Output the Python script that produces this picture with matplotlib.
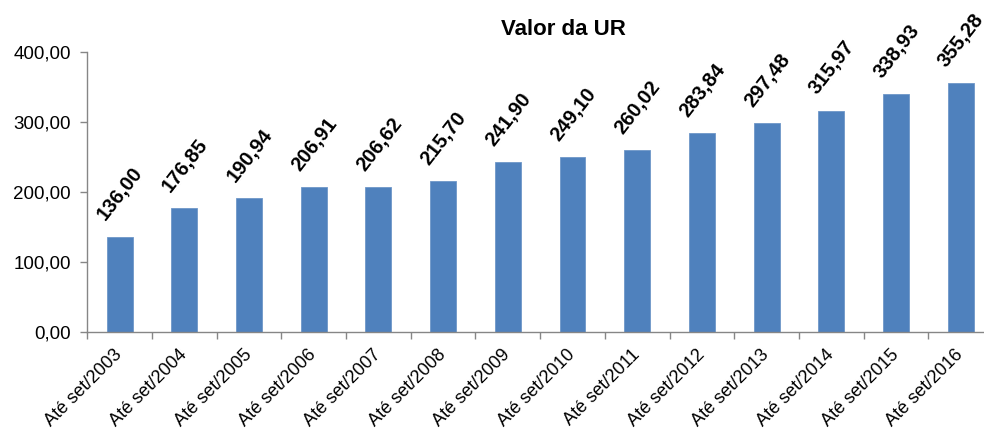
import matplotlib
matplotlib.use("Agg")
import matplotlib.pyplot as plt
import numpy as np
from matplotlib.ticker import FuncFormatter, FixedLocator

plt.rcParams['font.family'] = ['Liberation Sans', 'DejaVu Sans']

categories = ["Até set/2003", "Até set/2004", "Até set/2005", "Até set/2006",
              "Até set/2007", "Até set/2008", "Até set/2009", "Até set/2010",
              "Até set/2011", "Até set/2012", "Até set/2013", "Até set/2014",
              "Até set/2015", "Até set/2016"]
values = [136.00, 176.85, 190.94, 206.91, 206.62, 215.70, 241.90, 249.10,
          260.02, 283.84, 297.48, 315.97, 338.93, 355.28]
yticks = [0, 100, 200, 300, 400]
title = "Valor da UR"

def br(v):
    return f"{v:.2f}".replace(".", ",")

fig = plt.figure(figsize=(9.84, 4.34), dpi=100)
ax = fig.add_axes([87.3 / 984, (434 - 331.7) / 434, (993 - 87.3) / 984, (331.7 - 51.7) / 434])

x = np.arange(len(categories))
bars = ax.bar(x, values, width=0.40, color="#4F81BD", edgecolor="#6E97C8", linewidth=0.6, zorder=2)

ax.set_xlim(-0.5, len(categories) - 0.5)
ax.set_ylim(0, 400)
ax.set_yticks(yticks)
ax.yaxis.set_major_formatter(FuncFormatter(lambda v, p: br(v)))

ax.set_xticks(x)
ax.set_xticklabels(categories, rotation=45, ha="right", va="center", rotation_mode="anchor", fontsize=13)
ax.xaxis.set_minor_locator(FixedLocator(np.arange(-0.5, len(categories), 1.0)))
ax.tick_params(axis="x", which="major", length=0, pad=15)
ax.tick_params(axis="x", which="minor", length=5, color="#868686", width=1)
ax.tick_params(axis="y", which="major", length=5, color="#868686", width=1, labelsize=13.5, pad=7)

for s in ["top", "right"]:
    ax.spines[s].set_visible(False)
for s in ["left", "bottom"]:
    ax.spines[s].set_color("#868686")
    ax.spines[s].set_linewidth(1)

for xi, v in zip(x, values):
    ax.annotate(br(v), (xi, v), xytext=(0.5, 9), textcoords="offset points",
                rotation=52, ha="center", va="bottom", fontsize=14.5, fontweight="bold")

fig.text(563 / 984, (434 - 35) / 434, title, ha="center", va="baseline", fontsize=16, fontweight="bold")

fig.savefig("out.png", dpi=100)
